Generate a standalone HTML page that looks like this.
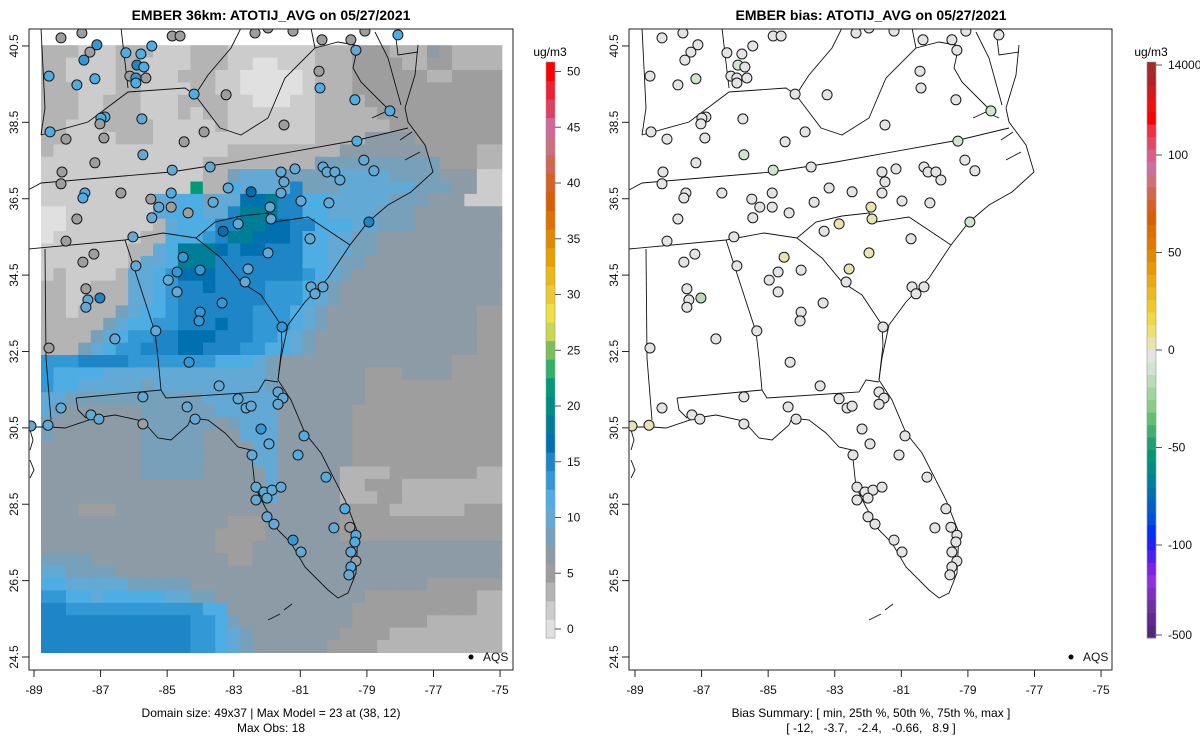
<!DOCTYPE html>
<html><head><meta charset="utf-8">
<style>
html,body{margin:0;padding:0;background:#fff;}
svg{display:block;font-family:"Liberation Sans",sans-serif;}
</style></head>
<body>
<svg id="chart" width="1200" height="750" viewBox="0 0 1200 750" xmlns="http://www.w3.org/2000/svg">
<defs>
<clipPath id="clipL"><rect x="29" y="29" width="484" height="641"/></clipPath>
<clipPath id="clipR"><rect x="629" y="29" width="483" height="641"/></clipPath>
</defs>
<rect width="1200" height="750" fill="#fff"/>
<text x="271" y="20" text-anchor="middle" font-weight="bold" font-size="14">EMBER 36km: ATOTIJ_AVG on 05/27/2021</text>
<text x="871" y="20" text-anchor="middle" font-weight="bold" font-size="14">EMBER bias: ATOTIJ_AVG on 05/27/2021</text>
<g id="gridL" clip-path="url(#clipL)"></g>
<g id="mapL" clip-path="url(#clipL)"></g>
<g id="mapR" clip-path="url(#clipR)"></g>
<g id="sitesL" clip-path="url(#clipL)"></g>
<g id="sitesR" clip-path="url(#clipR)"></g>
<g id="axes"></g>
<g id="cbars"></g>
<text x="271" y="717" text-anchor="middle" font-size="12">Domain size: 49x37 | Max Model = 23 at (38, 12)</text>
<text x="271" y="732" text-anchor="middle" font-size="12">Max Obs: 18</text>
<text x="871" y="717" text-anchor="middle" font-size="12">Bias Summary: [ min, 25th %, 50th %, 75th %, max ]</text>
<text x="871" y="732" text-anchor="middle" font-size="12" xml:space="preserve">[ -12,   -3.7,   -2.4,   -0.66,   8.9 ]</text>
</svg>
<script>
// ---- data ----
const gridRows = [
"22211 12221 11222 11111 11222 33322 24322 22",
"22111 12211 11222 11001 11222 33332 23322 22",
"22111 12211 12221 10000 01222 33333 32233 33",
"22211 12211 11221 10000 01222 33333 33333 33",
"22211 22211 12222 11000 11222 23333 33333 33",
"22211 22211 12122 11111 11222 22333 33333 33",
"22111 22221 11112 11111 11222 22233 33333 33",
"22111 12221 11111 11111 11222 24444 33333 33",
"21111 11111 11111 22222 22224 44444 43333 22",
"11111 11111 11122 22222 22555 55555 55333 22",
"11111 11111 11122 56665 55566 66655 55444 11",
"11111 11111 11d22 76666 95556 66666 55544 11",
"11111 11116 67756 6aab9 97766 66655 54441 1",
"00111 11116 77766 9bbb9 97766 66555 44444 4",
"00111 11112 67779 9bbaa 99777 66555 44444 4",
"01111 11122 77789 bbaaa 97766 55444 44444 4",
"11111 11226 7bbba 9aa99 97766 55444 44444 4",
"11111 11266 7bbb9 99999 97765 54444 44444 4",
"12111 12667 8aaa9 99999 98765 44444 44444 4",
"22112 22667 899a9 99988 87654 44444 44444 4",
"22112 22667 89999 99988 87654 44444 44444 4",
"22122 25677 89999 99888 76544 44444 44444 3",
"22222 56778 8999a 99888 76544 44444 44444 3",
"22225 67889 9aaa9 99887 65444 44444 44444 3",
"22256 78899 9aa99 98877 65444 44444 44444 3",
"88899 99888 88887 77654 44444 44444 44433 3",
"87777 66666 66666 66654 44444 43334 44433 3",
"87766 66656 66666 66654 44444 43333 33333 3",
"66555 55555 55566 66664 44444 43333 33333 3",
"65444 44455 55556 66664 44444 33333 33333 3",
"54444 44455 55554 56664 44444 33333 33333 3",
"54444 44455 55544 46664 44444 33333 33333 3",
"44444 44455 55544 44664 44444 33333 33333 3",
"44444 44455 55544 44664 44444 33333 33333 3",
"44444 44455 55544 44464 44442 22233 33333 2",
"44444 44444 44444 44464 44442 23332 22222 2",
"44444 44444 44444 44464 44442 22332 22222 2",
"44433 34444 44444 44444 44443 33322 22223 3",
"44444 44444 44444 33344 44443 33333 33333 3",
"44444 44444 44443 33344 44443 33333 33333 3",
"44444 44444 44443 33444 44444 44444 44444 4",
"55554 44444 44444 33444 44444 44444 44444 4",
"66555 54444 44444 44444 44444 44444 44444 4",
"77666 66555 55444 44444 44444 44444 43333 3",
"88776 77777 66554 44444 44444 43333 33333 2",
"99888 88888 88877 44444 44444 33333 33333 2",
"99999 99999 99887 54444 44444 33333 32222 2",
"99999 99999 99887 65444 44443 33322 22222 2",
"99999 99999 99887 65444 44433 33222 22222 2"
];
const gridLonMin = -88.79, gridLonMax = -74.95, gridLatMin = 24.62, gridLatMax = 40.52;

const siteLon = [-88.19,-87.56,-87.11,-87.32,-87.50,-88.55,-87.17,-87.71,-86.24,-85.79,-85.46,-85.91,-85.70,-86.12,-85.94,-85.64,-85.94,-84.85,-84.61,-84.19,-83.23,-82.36,-81.97,-81.22,-80.35,-79.48,-79.06,-78.07,-79.33,-80.44,-80.41,-79.36,-78.31,-81.49,-86.87,-86.99,-87.02,-86.90,-85.76,-83.89,-84.49,-85.73,-87.17,-88.52,-88.04,-88.16,-88.19,-87.47,-87.53,-86.39,-84.85,-83.71,-85.49,-85.25,-84.88,-84.88,-84.37,-85.46,-87.71,-88.04,-83.17,-83.62,-82.48,-81.58,-81.16,-81.49,-81.58,-81.91,-81.88,-82.87,-83.32,-80.98,-80.32,-80.20,-79.96,-79.81,-79.09,-78.79,-79.30,-80.14,-78.94,-80.71,-86.03,-87.20,-87.53,-85.94,-84.52,-84.70,-84.01,-84.97,-84.70,-82.57,-81.97,-82.66,-83.35,-84.01,-84.04,-87.44,-87.38,-87.02,-87.44,-85.34,-86.57,-80.68,-80.32,-80.56,-81.55,-88.55,-84.34,-83.44,-85.73,-88.19,-87.29,-87.05,-88.58,-89.09,-85.73,-84.40,-84.16,-82.87,-82.63,-82.48,-81.67,-81.52,-81.67,-82.18,-81.94,-82.45,-80.89,-81.07,-80.23,-82.33,-82.09,-81.85,-81.58,-82.33,-82.00,-82.00,-81.79,-81.22,-80.98,-79.66,-79.99,-79.51,-79.33,-79.36,-79.48,-79.33,-79.48,-79.54];
const siteLat = [40.71,40.84,40.53,40.34,40.13,39.71,39.64,39.48,40.32,40.29,40.50,40.00,39.95,39.71,39.66,39.66,39.53,40.76,40.76,39.24,39.22,40.84,40.97,40.89,40.66,40.66,40.89,40.79,40.39,39.84,39.40,39.09,38.80,38.43,38.64,38.61,38.46,38.09,38.59,38.25,37.99,37.65,37.44,38.25,38.06,37.20,36.89,36.65,36.52,36.65,37.25,37.33,36.49,36.28,36.65,36.28,36.13,36.00,35.97,35.39,36.78,36.41,36.68,37.20,37.28,36.94,36.65,36.28,35.97,35.84,35.65,36.44,37.33,37.20,37.20,36.99,37.51,37.23,38.01,36.39,35.89,35.45,35.50,35.05,34.84,34.74,34.97,34.58,34.63,34.37,34.06,34.66,35.08,34.32,33.77,33.53,33.30,34.14,33.85,33.90,33.66,33.04,32.83,34.19,34.19,34.01,33.14,32.59,32.22,31.60,31.31,31.02,30.84,30.73,30.57,30.55,30.60,31.05,30.73,31.26,31.02,31.07,31.44,31.28,31.12,30.47,30.08,29.79,30.29,29.79,29.21,28.95,28.82,28.87,28.95,28.61,28.66,28.17,27.98,27.56,27.25,28.38,27.88,27.90,27.69,27.51,27.25,27.01,26.86,26.65];
const siteObs = [5,5,13,5,13,11,11,11,11,11,11,14.5,11,5,13,5,11,5,5,11,5,5,5,5,5,5,5,11,9.5,5,11,11,11,5,11,11,5,5,9.5,5,5,9.5,5,11,5,5,5,11,11,5,9.5,9.5,5,9.5,11,5,5,9.5,5,5,9.5,9.5,16.5,9.5,9.5,9.5,9.5,9.5,9.5,9.5,16.5,9.5,9.5,9.5,9.5,9.5,9.5,9.5,11,9.5,14.5,9.5,9.5,5,5,9.5,13,13,13,9.5,9.5,9.5,9.5,9.5,13,13,13,5,9.5,14.5,9.5,9.5,9.5,9.5,9.5,9.5,13,5,13,9.5,9.5,9.5,9.5,9.5,9.5,9.5,5,9.5,9.5,9.5,9.5,9.5,9.5,9.5,9.5,13,9.5,9.5,11,11,11,9.5,9.5,9.5,9.5,9.5,9.5,9.5,9.5,13,9.5,11,9.5,5,11,11,9.5,5,11,9.5];
const siteBias = [-2.4,-2.4,-2.4,-2.4,-2.4,-2.4,-5,-2.4,-2.4,-2.4,-2.4,-3.7,-2.4,-2.4,-2.4,-2.4,-2.4,-2.4,-2.4,-2.4,-2.4,-2.4,-2.4,-2.4,-2.4,-2.4,-2.4,-2.4,-2.4,-2.4,-2.4,-2.4,-5,-2.4,-2.4,-2.4,-2.4,-2.4,-2.4,-2.4,-2.4,-8,-2.4,-2.4,-2.4,-2.4,-2.4,-2.4,-2.4,-2.4,-8,-2.4,-2.4,-2.4,-2.4,-2.4,-2.4,-2.4,-2.4,-2.4,-2.4,-2.4,-2.4,-2.4,-2.4,-2.4,-2.4,5,5,5,-2.4,-2.4,-2.4,-2.4,-2.4,-2.4,-2.4,-2.4,-8,-2.4,-9,-2.4,-2.4,-2.4,-2.4,-2.4,5,-2.4,-2.4,-2.4,-2.4,5,8.9,-2.4,-2.4,-2.4,-2.4,-2.4,-2.4,-12,-2.4,-2.4,-2.4,-2.4,-2.4,-2.4,-2.4,-2.4,-2.4,-2.4,-2.4,-2.4,-2.4,-2.4,5,5,-2.4,-2.4,-2.4,-2.4,-2.4,-2.4,-2.4,-2.4,-2.4,-2.4,-2.4,-2.4,-2.4,-2.4,-2.4,-2.4,-2.4,-2.4,-2.4,-2.4,-2.4,-2.4,-2.4,-2.4,-2.4,-2.4,-2.4,-2.4,-2.4,-2.4,-2.4,-2.4,-2.4,-2.4,-2.4];

const xTickLabels = [-89,-87,-85,-83,-81,-79,-77,-75];
const yTickLabels = [24.5,26.5,28.5,30.5,32.5,34.5,36.5,38.5,40.5];
const concTicks = [0,5,10,15,20,25,30,35,40,45,50];
const biasTickLabels = ["14000","100","50","0","-50","-100","-500"];
const biasTickValues = [14000,100,50,0,-50,-100,-500];

const concColors = ["#e0e0e0","#cccccc","#b4b4b4","#9e9e9e","#8c9ba6","#77a0bb","#62a9d6","#4eaee3","#3399d6","#1e86c6","#0070b0","#007e98","#008c88","#009a78","#30b068","#78c058","#c8d850","#f0e040","#f0c830","#ecb818","#e8a000","#e08800","#e07000","#d86000","#d86020","#d06850","#cc7080","#d06898","#e04060","#f02030","#ff0000"];
const biasColors = ["#a52a2a","#b22222","#d81818","#f01010","#ff0000","#f03040","#e04868","#d86088","#cc70a0","#d07078","#d06850","#d86020","#d86000","#e06c00","#e07800","#e08800","#e89800","#eca810","#f0b818","#f0c828","#f0d840","#ece070","#e8e4b0","#e4e4e4","#d0e4d0","#b8dcb8","#a0d4a0","#88cc88","#60c070","#40b070","#20a070","#009878","#008c88","#008098","#0070b0","#0060c8","#0050e0","#0030f8","#2020f8","#5020f0","#8020e8","#9030e0","#8030c0","#7030a0","#602890","#502880"];

// ---- scales ----
const NS = "http://www.w3.org/2000/svg";
const PX0 = [34, 635];
function xOf(lon, p){ return PX0[p] + (lon + 89) * 33.29; }
function yOf(lat){ return 657 - (lat - 24.5) * 38.19; }
function concBin(v){ return Math.max(0, Math.min(concColors.length-1, Math.round(v / (50/30)))); }
function concY(v){ return 629 - v * 11.15; }
function biasBin(b){ return Math.max(0, Math.min(biasColors.length-1, 23 - Math.round(b / 6.4))); }
function biasY(v){
  if (v > 100) return 65;
  if (v < -100) return 635;
  return 350 - v * 1.95;
}
function mk(tag, attrs, parent){
  const e = document.createElementNS(NS, tag);
  for (const k in attrs) e.setAttribute(k, attrs[k]);
  parent.appendChild(e); return e;
}

// ---- grid ----
const gridG = document.getElementById('gridL');
const nCols = 37, nRows = gridRows.length;
const cw = (xOf(gridLonMax,0) - xOf(gridLonMin,0)) / nCols;
const ch = (yOf(gridLatMin) - yOf(gridLatMax)) / nRows;
gridRows.forEach((row, r) => {
  let s = row.replace(/ /g, '');
  while (s.length < nCols) s += s[s.length-1];
  for (let c = 0; c < nCols; c++) {
    const cls = parseInt(s[c], 16);
    const cell = mk('rect', {x: (xOf(gridLonMin,0) + c*cw).toFixed(2), y: (yOf(gridLatMax) + r*ch).toFixed(2), width: (cw+0.6).toFixed(2), height: (ch+0.6).toFixed(2), fill: concColors[cls]}, gridG);
    
    
  }
});

// ---- base map outlines ----
const outlines = [
 [[418,45],[415,75],[405,108],[408,122],[425,145],[433,172],[411,192],[388,205],[368,222],[350,245],[328,278],[305,302],[288,325],[281,358],[278,380],[291,400],[305,433],[321,453],[345,500],[358,533],[356,573],[348,593],[338,598],[328,590],[305,567],[291,543],[278,530],[265,507],[255,487],[251,450],[238,447],[225,433],[208,420],[191,418],[188,425],[171,440],[158,438],[148,427],[138,420],[115,415],[95,418],[65,428],[51,427],[28,427]],
 [[28,190],[41,183],[171,172],[235,162],[358,140],[408,128]],
 [[28,249],[125,240],[163,233],[196,238],[215,222],[241,216],[268,213],[275,222],[308,217],[350,245]],
 [[196,238],[221,258],[241,282],[261,295],[281,325],[282,345],[278,380]],
 [[125,240],[155,332],[158,358],[161,390],[166,398],[258,392],[265,380],[278,382]],
 [[45,249],[46,358],[51,420]],
 [[76,398],[161,390]],[[76,398],[78,410],[86,418]],
 [[220,128],[195,95],[208,75],[231,48],[241,28]],
 [[220,128],[241,135],[268,118],[285,78],[315,48],[311,28]],
 [[41,135],[88,122],[128,92],[185,88],[195,95]],
 [[121,28],[128,88]],[[41,28],[45,108],[41,135]],
 [[315,48],[338,42],[355,45]],
 [[395,30],[398,55],[418,52]],
 [[358,45],[353,68],[361,82],[381,102],[391,112]],
 [[375,32],[388,58],[401,105]],
 [[372,118],[385,112],[398,118]],[[400,140],[412,132]],[[405,160],[420,152]],
 [[268,620],[280,614]],[[284,610],[292,604]],[[30,430],[33,440],[30,450]],[[30,460],[34,470],[30,478]]
];
['mapL','mapR'].forEach((id, p) => {
  const g = document.getElementById(id);
  outlines.forEach(line => {
    const pl = mk('polyline', {points: line.map(q => (q[0] + (p ? 601 : 0)) + ',' + q[1]).join(' '), fill: 'none', stroke: '#111', 'stroke-width': 0.9}, g);
    
    
  });
});

// ---- sites ----
const sL = document.getElementById('sitesL'), sR = document.getElementById('sitesR');
for (let i = 0; i < siteLon.length; i++) {
  const a = mk('circle', {cx: xOf(siteLon[i],0).toFixed(1), cy: yOf(siteLat[i]).toFixed(1), r: 5, fill: concColors[concBin(siteObs[i])], stroke: '#1a1a1a', 'stroke-width': 1}, sL);
  
  
  const b = mk('circle', {cx: xOf(siteLon[i],1).toFixed(1), cy: yOf(siteLat[i]).toFixed(1), r: 5, fill: biasColors[biasBin(siteBias[i])], stroke: '#1a1a1a', 'stroke-width': 1}, sR);
  
  
}

// ---- axes ----
const ax = document.getElementById('axes');
[[29,513],[629,1112]].forEach((fr, p) => {
  const f = mk('rect', {x: fr[0], y: 29, width: fr[1]-fr[0], height: 641, fill: 'none', stroke: '#222', 'stroke-width': 1}, ax);
  
  
  xTickLabels.forEach(v => {
    const x = xOf(v, p);
    mk('line', {x1: x, x2: x, y1: 670, y2: 677, stroke: '#222'}, ax);
    const t = mk('text', {x: x, y: 694, 'text-anchor': 'middle', 'font-size': 12, fill: '#111'}, ax);
    t.textContent = v;
    
    
  });
  yTickLabels.forEach(v => {
    const y = yOf(v);
    mk('line', {x1: fr[0]-7, x2: fr[0], y1: y, y2: y, stroke: '#222'}, ax);
    const tx = fr[0] - 11;
    const t = mk('text', {x: tx, y: y, 'text-anchor': 'middle', 'font-size': 12, fill: '#111', transform: 'rotate(-90 ' + tx + ' ' + y + ')'}, ax);
    t.textContent = v.toFixed(1);
    
    
  });
  const dx = p ? 600 : 0;
  const d = mk('circle', {cx: 471+dx, cy: 657, r: 2.5, fill: '#000'}, ax);
  
  
  const lt = mk('text', {x: 483+dx, y: 661, 'font-size': 12, fill: '#111'}, ax);
  lt.textContent = 'AQS';
  
  
});

// ---- colorbars ----
const cb = document.getElementById('cbars');
const cbTop = 62, cbBot = 638;
const hL = (cbBot - cbTop) / concColors.length;
concColors.forEach((c, i) => {
  const r = mk('rect', {x: 546, y: (cbBot - (i+1)*hL).toFixed(2), width: 9, height: (hL+0.4).toFixed(2), fill: c}, cb);
  
  
});
mk('rect', {x: 546, y: cbTop, width: 9, height: cbBot-cbTop, fill: 'none', stroke: '#999', 'stroke-width': 0.6}, cb);
concTicks.forEach(v => {
  const y = concY(v);
  mk('line', {x1: 555, x2: 561, y1: y, y2: y, stroke: '#555'}, cb);
  const t = mk('text', {x: 567, y: y+4, 'font-size': 12, fill: '#111'}, cb);
  t.textContent = v;
  
  
});
const u1 = mk('text', {x: 550, y: 56, 'text-anchor': 'middle', 'font-size': 12}, cb); u1.textContent = 'ug/m3';



const hR = (cbBot - cbTop) / biasColors.length;
biasColors.forEach((c, i) => {
  const r = mk('rect', {x: 1147, y: (cbTop + i*hR).toFixed(2), width: 9, height: (hR+0.4).toFixed(2), fill: c}, cb);
  
  
});
mk('rect', {x: 1147, y: cbTop, width: 9, height: cbBot-cbTop, fill: 'none', stroke: '#999', 'stroke-width': 0.6}, cb);
biasTickValues.forEach((v, i) => {
  const y = biasY(v);
  mk('line', {x1: 1156, x2: 1162, y1: y, y2: y, stroke: '#555'}, cb);
  const t = mk('text', {x: 1168, y: y+4, 'font-size': 12, fill: '#111'}, cb);
  t.textContent = biasTickLabels[i];
  
  
});
const u2 = mk('text', {x: 1151, y: 56, 'text-anchor': 'middle', 'font-size': 12}, cb); u2.textContent = 'ug/m3';


</script>
</body></html>
